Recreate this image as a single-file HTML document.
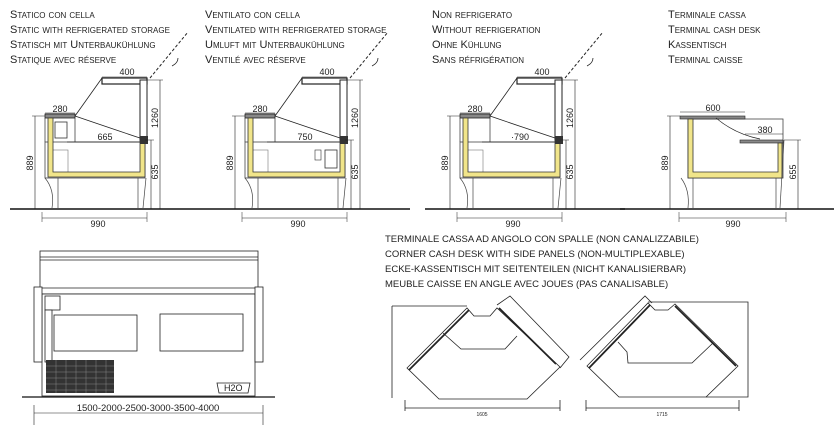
<!DOCTYPE html>
<html><head><meta charset="utf-8"><style>
html,body{margin:0;padding:0;background:#fff;}
svg{display:block;}
.sc{font-family:"Liberation Sans",sans-serif;font-variant:small-caps;font-size:11px;fill:#222;}
.d{font-family:"Liberation Sans",sans-serif;font-size:9px;fill:#222;}
.t{font-family:"Liberation Sans",sans-serif;font-size:9.5px;fill:#222;}
</style></head><body>
<svg width="834" height="436" viewBox="0 0 834 436" xmlns="http://www.w3.org/2000/svg">
<defs>
<g id="prof">
 <line x1="45" y1="118" x2="45" y2="142" stroke="#444" stroke-width="0.8"/>
 <rect x="45" y="142" width="100" height="36" fill="#fff" stroke="#444" stroke-width="0.8"/>
 <rect x="48" y="150" width="20" height="25" fill="none" stroke="#777" stroke-width="0.6"/>
 <line x1="75" y1="118" x2="75" y2="142" stroke="#444" stroke-width="0.8"/>
 <rect x="102" y="78" width="45" height="6" fill="#fff" stroke="#222" stroke-width="1.2"/>
 <rect x="140" y="80" width="7" height="60" fill="#fff" stroke="#222" stroke-width="1"/>
 <line x1="102" y1="78" x2="75" y2="116" stroke="#222" stroke-width="0.8"/>
 <path d="M75 116 Q110 128 140 138" fill="none" stroke="#222" stroke-width="0.8"/>
 <rect x="45" y="114" width="30" height="4" fill="#888" stroke="#222" stroke-width="0.8"/>
 <line x1="67" y1="142" x2="140" y2="142" stroke="#222" stroke-width="0.8"/>
 <path d="M48 118 h5 v54 h87 v-33 h5 v38 h-97 z" fill="#f1e58a" stroke="#333" stroke-width="0.8"/>
 <rect x="140" y="136" width="8" height="8" fill="#333"/>
 <path d="M45 178 Q55 190 52 208" fill="none" stroke="#444" stroke-width="0.7"/>
 <line x1="58" y1="178" x2="58" y2="208" stroke="#444" stroke-width="0.7"/>
 <line x1="138" y1="178" x2="138" y2="208" stroke="#444" stroke-width="0.7"/>
 <line x1="146" y1="178" x2="143" y2="208" stroke="#444" stroke-width="0.7"/>
 <line x1="150" y1="78" x2="188" y2="32" stroke="#222" stroke-width="1" stroke-dasharray="3,2"/>
 <path d="M172 66 q6 -3 6 -8" fill="none" stroke="#222" stroke-width="0.8"/>
 <line x1="35" y1="116" x2="35" y2="209" stroke="#222" stroke-width="0.6"/>
 <line x1="32" y1="116" x2="45" y2="116" stroke="#222" stroke-width="0.5"/>
 <text class="d" transform="translate(33,163) rotate(-90)" text-anchor="middle">889</text>
 <line x1="160" y1="80" x2="160" y2="209" stroke="#222" stroke-width="0.6"/>
 <line x1="147" y1="80" x2="163" y2="80" stroke="#222" stroke-width="0.5"/>
 <text class="d" transform="translate(158,118) rotate(-90)" text-anchor="middle">1260</text>
 <line x1="151" y1="140" x2="151" y2="209" stroke="#222" stroke-width="0.6"/>
 <line x1="145" y1="140" x2="154" y2="140" stroke="#222" stroke-width="0.5"/>
 <text class="d" transform="translate(158,172) rotate(-90)" text-anchor="middle">635</text>
 <line x1="42" y1="218" x2="147" y2="218" stroke="#222" stroke-width="0.6"/>
 <line x1="42" y1="212" x2="42" y2="222" stroke="#222" stroke-width="0.5"/>
 <line x1="147" y1="212" x2="147" y2="222" stroke="#222" stroke-width="0.5"/>
 <text class="d" x="98" y="227" text-anchor="middle">990</text>
 <line x1="102" y1="77" x2="147" y2="77" stroke="#222" stroke-width="0.5"/>
 <text class="d" x="127" y="75" text-anchor="middle">400</text>
 <line x1="45" y1="113" x2="75" y2="113" stroke="#222" stroke-width="0.5"/>
 <text class="d" x="60" y="112" text-anchor="middle">280</text>
 <line x1="10" y1="209" x2="210" y2="209" stroke="#111" stroke-width="1.5"/>
</g>
</defs>

<text class="sc" x="10" y="18">Statico con cella</text>
<text class="sc" x="10" y="33">Static with refrigerated storage</text>
<text class="sc" x="10" y="48">Statisch mit Unterbaukühlung</text>
<text class="sc" x="10" y="63">Statique avec réserve</text>
<use href="#prof"/>
<text class="d" x="105" y="140" text-anchor="middle">665</text>
<rect x="55" y="122" width="12" height="16" fill="#fff" stroke="#333" stroke-width="0.8"/>

<text class="sc" x="205" y="18">Ventilato con cella</text>
<text class="sc" x="205" y="33">Ventilated with refrigerated storage</text>
<text class="sc" x="205" y="48">Umluft mit Unterbaukühlung</text>
<text class="sc" x="205" y="63">Ventilé avec réserve</text>
<g transform="translate(200,0)"><use href="#prof"/>
<text class="d" x="105" y="140" text-anchor="middle">750</text>
<rect x="125" y="150" width="12" height="18" fill="#fff" stroke="#333" stroke-width="0.8"/>
<rect x="115" y="150" width="6" height="10" fill="none" stroke="#333" stroke-width="0.6"/>
</g>

<text class="sc" x="432" y="18">Non refrigerato</text>
<text class="sc" x="432" y="33">Without refrigeration</text>
<text class="sc" x="432" y="48">Ohne Kühlung</text>
<text class="sc" x="432" y="63">Sans réfrigération</text>
<g transform="translate(415,0)"><use href="#prof"/>
<text class="d" x="105" y="140" text-anchor="middle">·790</text>
</g>

<text class="sc" x="668" y="18">Terminale cassa</text>
<text class="sc" x="668" y="33">Terminal cash desk</text>
<text class="sc" x="668" y="48">Kassentisch</text>
<text class="sc" x="668" y="63">Terminal caisse</text>
<g>
 <rect x="688" y="119" width="95" height="59" fill="#fff" stroke="#444" stroke-width="0.8"/>
 <rect x="680" y="116" width="65" height="3" fill="#888" stroke="#222" stroke-width="0.6"/>
 <path d="M716 118 Q735 134 760 139" fill="none" stroke="#222" stroke-width="0.7"/>
 <rect x="740" y="140" width="43" height="3" fill="#888" stroke="#222" stroke-width="0.6"/>
 <path d="M688 119 h5 v53 h85 v-29 h4 v35 h-94 z" fill="#f1e58a" stroke="#333" stroke-width="0.8"/>
 <path d="M681 178 Q690 190 688 208" fill="none" stroke="#444" stroke-width="0.7"/>
 <line x1="693" y1="178" x2="693" y2="208" stroke="#444" stroke-width="0.7"/>
 <line x1="776" y1="178" x2="776" y2="208" stroke="#444" stroke-width="0.7"/>
 <line x1="784" y1="140" x2="780" y2="208" stroke="#444" stroke-width="0.7"/>
 <line x1="670" y1="116" x2="670" y2="209" stroke="#222" stroke-width="0.6"/>
 <line x1="667" y1="116" x2="680" y2="116" stroke="#222" stroke-width="0.5"/>
 <text class="d" transform="translate(668,163) rotate(-90)" text-anchor="middle">889</text>
 <line x1="798" y1="140" x2="798" y2="209" stroke="#222" stroke-width="0.6"/>
 <line x1="784" y1="140" x2="801" y2="140" stroke="#222" stroke-width="0.5"/>
 <text class="d" transform="translate(796,172) rotate(-90)" text-anchor="middle">655</text>
 <line x1="680" y1="112" x2="745" y2="112" stroke="#222" stroke-width="0.5"/>
 <text class="d" x="713" y="111" text-anchor="middle">600</text>
 <line x1="745" y1="134" x2="783" y2="134" stroke="#222" stroke-width="0.5"/>
 <text class="d" x="765" y="133" text-anchor="middle">380</text>
 <line x1="679" y1="218" x2="786" y2="218" stroke="#222" stroke-width="0.6"/>
 <line x1="679" y1="212" x2="679" y2="222" stroke="#222" stroke-width="0.5"/>
 <line x1="786" y1="212" x2="786" y2="222" stroke="#222" stroke-width="0.5"/>
 <text class="d" x="733" y="227" text-anchor="middle">990</text>
 <line x1="620" y1="209" x2="834" y2="209" stroke="#111" stroke-width="1.5"/>
</g>

<g stroke="#222" fill="#fff" stroke-width="0.8">
 <rect x="40" y="251" width="218" height="43"/>
 <line x1="40" y1="257" x2="258" y2="257"/>
 <line x1="40" y1="260" x2="258" y2="260"/>
 <line x1="40" y1="288" x2="258" y2="288"/>
 <rect x="42" y="294" width="213" height="102"/>
 <rect x="34" y="287" width="8" height="75"/>
 <rect x="255" y="287" width="8" height="75"/>
 <rect x="54" y="315" width="83" height="36"/>
 <rect x="160" y="314" width="83" height="37"/>
 <rect x="45" y="296" width="15" height="14"/>
 <rect x="45" y="310" width="7" height="52"/>
 <path d="M217 383 h33 l-2 10 h-29 z"/>
</g>
<rect x="46" y="360" width="68" height="33" fill="#333"/>
<g stroke="#999" stroke-width="0.4">
 <line x1="46" y1="366" x2="114" y2="366"/><line x1="46" y1="372" x2="114" y2="372"/><line x1="46" y1="378" x2="114" y2="378"/><line x1="46" y1="384" x2="114" y2="384"/><line x1="46" y1="390" x2="114" y2="390"/>
 <line x1="56" y1="360" x2="56" y2="393"/><line x1="66" y1="360" x2="66" y2="393"/><line x1="76" y1="360" x2="76" y2="393"/><line x1="86" y1="360" x2="86" y2="393"/><line x1="96" y1="360" x2="96" y2="393"/><line x1="106" y1="360" x2="106" y2="393"/>
</g>
<text class="d" x="224" y="391" style="font-size:9px">H2O</text>
<line x1="22" y1="397" x2="275" y2="397" stroke="#111" stroke-width="1.3"/>
<line x1="34" y1="413" x2="263" y2="413" stroke="#222" stroke-width="0.6"/>
<line x1="34" y1="405" x2="34" y2="425" stroke="#222" stroke-width="0.6"/>
<line x1="263" y1="405" x2="263" y2="425" stroke="#222" stroke-width="0.6"/>
<text class="d" x="148" y="411" text-anchor="middle" style="font-size:9.5px">1500-2000-2500-3000-3500-4000</text>

<text class="t" x="385" y="242">TERMINALE CASSA AD ANGOLO CON SPALLE (NON CANALIZZABILE)</text>
<text class="t" x="385" y="257">CORNER CASH DESK WITH SIDE PANELS (NON-MULTIPLEXABLE)</text>
<text class="t" x="385" y="272">ECKE-KASSENTISCH MIT SEITENTEILEN (NICHT KANALISIERBAR)</text>
<text class="t" x="385" y="287">MEUBLE CAISSE EN ANGLE AVEC JOUES (PAS CANALISABLE)</text>

<g stroke="#222" fill="none" stroke-width="0.8">
 <path d="M392 306 H467 M392 306 V398"/>
 <path d="M407 368 L467 308 L474 316 L490 316 L497 308 L560 367 L527 399 L439 399 Z"/>
 <path d="M409 370 L469 310" stroke-width="1.8"/>
 <path d="M443 333 L461 349 L505 349 L517 336"/>
 <path d="M497 305 L510 296 L569 357 L560 368"/>
 <path d="M499 308 L556 364" stroke-width="1.8"/>
 <path d="M405 408 H560 M405 400 V411 M560 400 V411"/>
 <path d="M587 366 L648 303 L655 310 L668 310 L675 304 L738 366 L706 397 L619 397 Z"/>
 <path d="M589 368 L650 305" stroke-width="1.8"/>
 <path d="M675 306 L736 366" stroke-width="1.8"/>
 <path d="M580 360 L645 296 L652 303"/>
 <path d="M618 342 L627 352 L628 363 L692 363 L713 343"/>
 <path d="M648 302 H748 V397 H706"/>
 <path d="M586 408 H739 M586 400 V411 M739 400 V411"/>
</g>
<text class="d" x="482" y="416" text-anchor="middle" style="font-size:5px">1605</text>
<text class="d" x="662" y="416" text-anchor="middle" style="font-size:5px">1715</text>
</svg>
</body></html>
